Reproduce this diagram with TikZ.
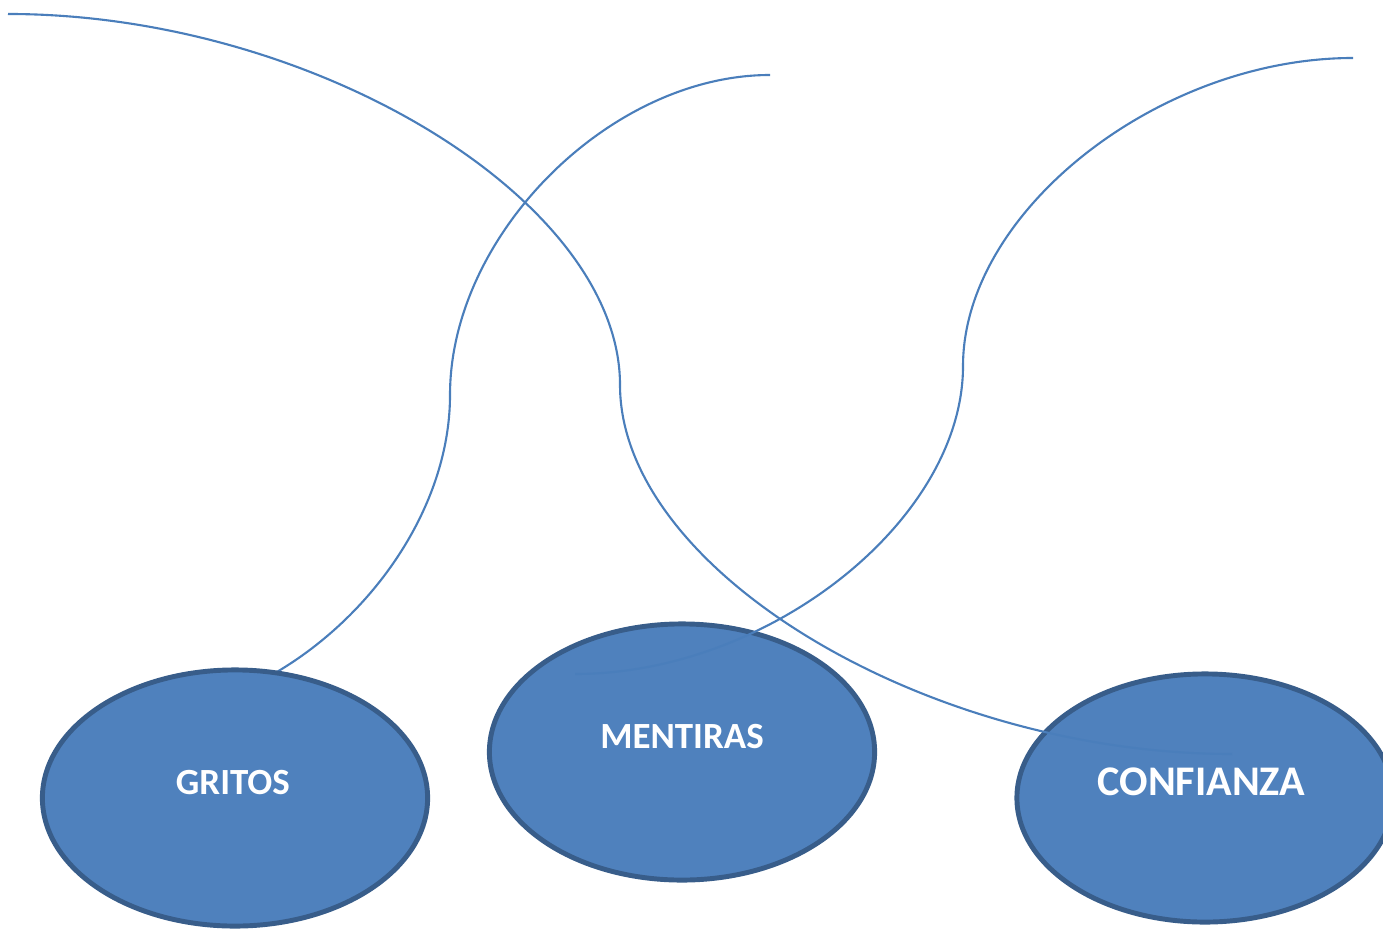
\documentclass[tikz,border=0pt]{standalone}
\usepackage{fontspec}
\setmainfont{Carlito}
\usetikzlibrary{shapes.geometric}
\definecolor{bubblefill}{HTML}{4F81BD}
\definecolor{bubbleedge}{HTML}{385D8A}
\definecolor{wireblue}{HTML}{4A7EBB}
\begin{document}
\begin{tikzpicture}[x=0.01cm, y=-0.01cm,
  bubble/.style={ellipse, draw=bubbleedge, fill=bubblefill, line width=1.4pt,
    minimum width=3.85cm, minimum height=2.56cm, inner sep=0pt},
  word/.style={text=white, font=\bfseries\fontsize{10.5}{12}\selectfont, yshift=4.5pt},
  wire/.style={draw=wireblue, line width=0.6pt}]

\useasboundingbox (0,0) rectangle (1383,928);

% free ends of the curves
\coordinate (g0) at (130,715);  \coordinate (g1) at (770,75);
\coordinate (c0) at (8,14);     \coordinate (c1) at (1232,754);
\coordinate (m0) at (575,674);  \coordinate (m1) at (1353,58);

\draw[wire] (g0) .. controls +(160,0) and +(0,160) .. (450,395)
  .. controls +(0,-160) and +(-160,0) .. (g1);

\node[bubble, label={[word, xshift=-0.6pt]center:GRITOS}] (gritos) at (235,798) {};
\node[bubble, label={[word]center:MENTIRAS}] (mentiras) at (682,752) {};
\node[bubble, minimum width=3.76cm, minimum height=2.48cm,
  label={[word, xshift=-1pt, font=\bfseries\fontsize{12}{14}\selectfont]center:CONFIANZA}] (confianza) at (1205,798) {};

\draw[wire] (c0) .. controls +(306,0) and +(0,-185) .. (620,385)
  .. controls +(0,185) and +(-306,0) .. (c1);
\draw[wire] (m0) .. controls +(194,0) and +(0,154) .. (963,366)
  .. controls +(0,-154) and +(-195,0) .. (m1);

\end{tikzpicture}
\end{document}
